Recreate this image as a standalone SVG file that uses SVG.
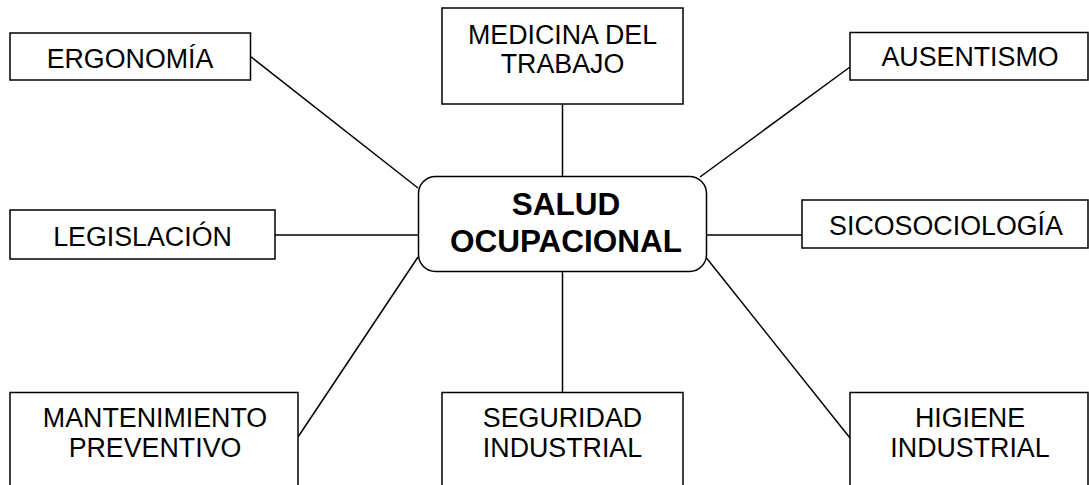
<svg xmlns="http://www.w3.org/2000/svg" width="1089" height="485" viewBox="0 0 1089 485">
<style>
.box{fill:#fff;stroke:#000;stroke-width:1.5}
.lbl{font-family:"Liberation Sans",Arial,sans-serif;font-size:26.8px;fill:#000;text-anchor:middle}
.ttl{font-family:"Liberation Sans",Arial,sans-serif;font-size:31.5px;font-weight:bold;fill:#000;text-anchor:middle}
.con{stroke:#000;stroke-width:1.5;fill:none}
</style>
<rect width="1089" height="485" fill="#fff"/>
<g id="connectors">
<line class="con" x1="250.5" y1="56.5" x2="418" y2="188"/>
<line class="con" x1="562.5" y1="104" x2="562.5" y2="176"/>
<line class="con" x1="850" y1="67" x2="700" y2="177"/>
<line class="con" x1="275" y1="235" x2="418" y2="235"/>
<line class="con" x1="706.5" y1="235" x2="802" y2="235"/>
<line class="con" x1="418" y1="257" x2="298" y2="437"/>
<line class="con" x1="562.5" y1="272" x2="562.5" y2="392"/>
<line class="con" x1="706.5" y1="258" x2="850" y2="438"/>
</g>
<g id="center">
<rect class="box" x="418.5" y="176.5" width="288" height="95" rx="17" ry="17"/>
<text class="ttl" x="566" y="215">SALUD</text>
<text class="ttl" x="566" y="252">OCUPACIONAL</text>
</g>
<g id="ergonomia">
<rect class="box" x="10" y="33" width="240.5" height="47"/>
<text class="lbl" x="130" y="68">ERGONOMÍA</text>
</g>
<g id="medicina">
<rect class="box" x="442" y="8" width="241" height="96"/>
<text class="lbl" x="562.5" y="44">MEDICINA DEL</text>
<text class="lbl" x="562.5" y="73">TRABAJO</text>
</g>
<g id="ausentismo">
<rect class="box" x="850" y="32.5" width="238" height="47.5"/>
<text class="lbl" x="970" y="66">AUSENTISMO</text>
</g>
<g id="legislacion">
<rect class="box" x="10" y="210" width="265" height="49"/>
<text class="lbl" x="142.5" y="246">LEGISLACIÓN</text>
</g>
<g id="sicosociologia">
<rect class="box" x="802" y="200" width="286" height="48"/>
<text class="lbl" x="946" y="235">SICOSOCIOLOGÍA</text>
</g>
<g id="mantenimiento">
<rect class="box" x="10" y="392.5" width="288" height="100"/>
<text class="lbl" x="155" y="427">MANTENIMIENTO</text>
<text class="lbl" x="155" y="457">PREVENTIVO</text>
</g>
<g id="seguridad">
<rect class="box" x="442" y="392.5" width="241" height="100"/>
<text class="lbl" x="562.5" y="427">SEGURIDAD</text>
<text class="lbl" x="562.5" y="457">INDUSTRIAL</text>
</g>
<g id="higiene">
<rect class="box" x="850" y="392.5" width="238" height="100"/>
<text class="lbl" x="970" y="427">HIGIENE</text>
<text class="lbl" x="970" y="457">INDUSTRIAL</text>
</g>
</svg>
